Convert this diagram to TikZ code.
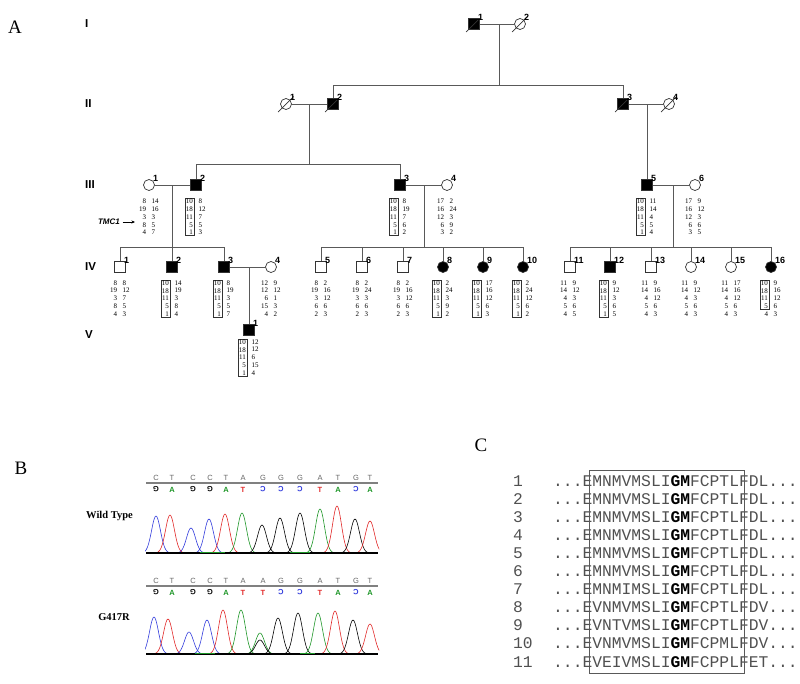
\documentclass[tikz,border=0pt]{standalone}
\usepackage{fontspec}
\setmainfont{Liberation Serif}
\newfontfamily\hv{Liberation Sans}
\newfontfamily\mono{Liberation Mono}
\usetikzlibrary{arrows.meta}
\definecolor{seqgray}{RGB}{80,80,80}
\definecolor{trB}{RGB}{50,60,220}
\definecolor{trR}{RGB}{225,40,40}
\definecolor{trG}{RGB}{30,150,40}
\newcommand\hapN[5]{%
  \node[hL] (#1L) at (#2-2,#3) {#4};
  \node[hR] (#1R) at (#2+1.5,#3) {#5};}
\newcommand\hapB[5]{%
  \node[hL,bx] (#1L) at (#2-2,#3) {#4};
  \node[hR] (#1R) at (#2+1.5,#3) {#5};}
\newcommand\pk[5]{%
  \pgfmathsetmacro\pkA{#2-2.6*#5}\pgfmathsetmacro\pkB{#2+2.6*#5}%
  \draw[#1, line width=0.6pt] plot[domain=\pkA:\pkB, samples=35, smooth] (\x, {#3-#4*exp(-((\x-#2)/#5)^2)});}
\begin{document}
\begin{tikzpicture}[x=1pt,y=-1pt,
 ln/.style={draw=black!65, line width=0.8pt},
 male/.style={rectangle, draw=black!80, line width=0.7pt, minimum size=10.5pt, inner sep=0pt, fill=white},
 fem/.style={circle, draw=black!80, line width=0.7pt, minimum size=11pt, inner sep=0pt, fill=white},
 aff/.style={fill=black},
 idl/.style={font=\hv\bfseries\fontsize{9}{9}\selectfont, inner sep=0pt, anchor=south west},
 gen/.style={font=\hv\bfseries\fontsize{11.5}{11.5}\selectfont, anchor=west, inner sep=0pt},
 hL/.style={font=\fontsize{7}{7.8}\selectfont, align=right, anchor=north east, inner sep=0.8pt},
 hR/.style={font=\fontsize{7}{7.8}\selectfont, align=left, anchor=north west, inner sep=0.8pt},
 bx/.style={draw=black!80, line width=0.5pt},
 panel/.style={font=\fontsize{19}{19}\selectfont, inner sep=0pt},
 slash/.style={draw=black!80, line width=0.7pt},
 cb/.style={font=\hv\fontsize{7.5}{7.5}\selectfont, text=black!60, inner sep=0pt},
 gl/.style={font=\hv\bfseries\fontsize{7.5}{7.5}\selectfont, inner sep=0pt},
 trl/.style={font=\bfseries\fontsize{10.5}{10.5}\selectfont, anchor=east, inner sep=0pt},
]
\useasboundingbox (0,0) rectangle (800,683);

% ---------- panel labels ----------
\node[panel] (pA) at (15,27) {A};
\node[panel] (pB) at (21,468) {B};
\node[panel] (pC) at (481,445) {C};

% generation labels
\node[gen] (gI) at (85,24) {I};
\node[gen] (gII) at (85,104) {II};
\node[gen] (gIII) at (85,185) {III};
\node[gen] (gIV) at (85,267) {IV};
\node[gen] (gV) at (85,335) {V};

% ---------- Generation I ----------
\node[male,aff] (i1) at (474,24) {};
\node[fem] (i2) at (520,24) {};
\draw[ln] (i1) -- (i2);
\coordinate (m1) at (499,24);
\coordinate (s1) at (499,85);

% ---------- Generation II ----------
\node[fem] (ii1) at (286,104) {};
\node[male,aff] (ii2) at (333,104) {};
\node[male,aff] (ii3) at (623,104) {};
\node[fem] (ii4) at (669,104) {};
\draw[ln] (m1) -- (s1);
\draw[ln] (ii2 |- s1) -- (ii3 |- s1);
\draw[ln] (ii2 |- s1) -- (ii2);
\draw[ln] (ii3 |- s1) -- (ii3);
\draw[ln] (ii1) -- (ii2);
\draw[ln] (ii3) -- (ii4);
\coordinate (m2) at (309,104);
\coordinate (s2) at (309,164);
\coordinate (m3) at (647,104);

% ---------- Generation III ----------
\node[fem] (iii1) at (149,185) {};
\node[male,aff] (iii2) at (196,185) {};
\node[male,aff] (iii3) at (400,185) {};
\node[fem] (iii4) at (447,185) {};
\node[male,aff] (iii5) at (647,185) {};
\node[fem] (iii6) at (695,185) {};
\draw[ln] (m2) -- (s2);
\draw[ln] (iii2 |- s2) -- (iii3 |- s2);
\draw[ln] (iii2 |- s2) -- (iii2);
\draw[ln] (iii3 |- s2) -- (iii3);
\draw[ln] (m3) -- (iii5);
\draw[ln] (iii1) -- (iii2);
\draw[ln] (iii3) -- (iii4);
\draw[ln] (iii5) -- (iii6);
\coordinate (m4) at (172,185);
\coordinate (s4) at (172,247);
\coordinate (m5) at (424,185);
\coordinate (s5) at (424,247);
\coordinate (m6) at (673,185);
\coordinate (s6) at (673,247);

% ---------- Generation IV ----------
\node[male] (iv1) at (120,267) {};
\node[male,aff] (iv2) at (172,267) {};
\node[male,aff] (iv3) at (224,267) {};
\node[fem] (iv4) at (271,267) {};
\node[male] (iv5) at (321,267) {};
\node[male] (iv6) at (362,267) {};
\node[male] (iv7) at (403,267) {};
\node[fem,aff] (iv8) at (443,267) {};
\node[fem,aff] (iv9) at (483,267) {};
\node[fem,aff] (iv10) at (523,267) {};
\node[male] (iv11) at (570,267) {};
\node[male,aff] (iv12) at (610,267) {};
\node[male] (iv13) at (651,267) {};
\node[fem] (iv14) at (691,267) {};
\node[fem] (iv15) at (731,267) {};
\node[fem,aff] (iv16) at (771,267) {};
\draw[ln] (m4) -- (s4);
\draw[ln] (m5) -- (s5);
\draw[ln] (m6) -- (s6);
\draw[ln] (iv1 |- s4) -- (iv3 |- s4);
\draw[ln] (iv5 |- s5) -- (iv10 |- s5);
\draw[ln] (iv11 |- s6) -- (iv16 |- s6);
\foreach \c in {iv1,iv2,iv3}{\draw[ln] (\c |- s4) -- (\c);}
\foreach \c in {iv5,iv6,iv7,iv8,iv9,iv10}{\draw[ln] (\c |- s5) -- (\c);}
\foreach \c in {iv11,iv12,iv13,iv14,iv15,iv16}{\draw[ln] (\c |- s6) -- (\c);}
\draw[ln] (iv3) -- (iv4);
\coordinate (m7) at (249,267);

% ---------- Generation V ----------
\node[male,aff] (v1) at (249,330) {};
\draw[ln] (m7) -- (v1);

% deceased slashes
\foreach \c in {i1,ii2,ii3}{\draw[slash] ([shift={(-8,8)}]\c.center) -- ([shift={(4,-4)}]\c.center);}
\foreach \c in {i2,ii1,ii4}{\draw[slash] ([shift={(-8,8)}]\c.center) -- ([shift={(7.5,-7.5)}]\c.center);}

% ---------- ID numbers ----------
\foreach \c/\t in {i1/1,i2/2,ii1/1,ii2/2,ii3/3,ii4/4,iii1/1,iii2/2,iii3/3,iii4/4,iii5/5,iii6/6,
 iv1/1,iv2/2,iv3/3,iv4/4,iv5/5,iv6/6,iv7/7,iv8/8,iv9/9,iv10/10,iv11/11,iv12/12,iv13/13,iv14/14,iv15/15,iv16/16,v1/1}
 {\node[idl] (\c n) at ([shift={(4,-3)}]\c.center) {\t};}

% ---------- haplotypes ----------
\hapN{h31}{149}{198}{8\\19\\3\\8\\4}{14\\16\\3\\5\\7}
\hapB{h32}{196}{198}{10\\18\\11\\5\\1}{8\\12\\7\\5\\3}
\hapB{h33}{400}{198}{10\\18\\11\\5\\1}{8\\19\\7\\6\\2}
\hapN{h34}{447}{198}{17\\16\\12\\6\\3}{2\\24\\3\\9\\2}
\hapB{h35}{647}{198}{10\\18\\11\\5\\1}{11\\14\\4\\5\\4}
\hapN{h36}{695}{198}{17\\16\\12\\6\\3}{9\\12\\3\\6\\5}

\hapN{h41}{120}{279.5}{8\\19\\3\\8\\4}{8\\12\\7\\5\\3}
\hapB{h42}{172}{279.5}{10\\18\\11\\5\\1}{14\\19\\3\\8\\4}
\hapB{h43}{224}{279.5}{10\\18\\11\\5\\1}{8\\19\\3\\5\\7}
\hapN{h44}{271}{279.5}{12\\12\\6\\15\\4}{9\\12\\1\\3\\2}
\hapN{h45}{321}{279.5}{8\\19\\3\\6\\2}{2\\16\\12\\6\\3}
\hapN{h46}{362}{279.5}{8\\19\\3\\6\\2}{2\\24\\3\\6\\3}
\hapN{h47}{403}{279.5}{8\\19\\3\\6\\2}{2\\16\\12\\6\\3}
\hapB{h48}{443}{279.5}{10\\18\\11\\5\\1}{2\\24\\3\\9\\2}
\hapB{h49}{483}{279.5}{10\\18\\11\\5\\1}{17\\16\\12\\6\\3}
\hapB{h410}{523}{279.5}{10\\18\\11\\5\\1}{2\\24\\12\\6\\2}
\hapN{h411}{570}{279.5}{11\\14\\4\\5\\4}{9\\12\\3\\6\\5}
\hapB{h412}{610}{279.5}{10\\18\\11\\5\\1}{9\\12\\3\\6\\5}
\hapN{h413}{651}{279.5}{11\\14\\4\\5\\4}{9\\16\\12\\6\\3}
\hapN{h414}{691}{279.5}{11\\14\\4\\5\\4}{9\\12\\3\\6\\3}
\hapN{h415}{731}{279.5}{11\\14\\4\\5\\4}{17\\16\\12\\6\\3}
\hapB{h416}{771}{279.5}{10\\18\\11\\5}{9\\16\\12\\6\\3}
\node[hL] (h416x) at (769,310.7) {4};

\hapB{h51}{249}{338.5}{10\\18\\11\\5\\1}{12\\12\\6\\15\\4}

% TMC1 arrow
\node[font=\hv\bfseries\itshape\fontsize{8}{8}\selectfont, anchor=east, inner sep=0pt] (tmc) at (120,222) {TMC1};
\coordinate (tmcend) at (135,222);
\draw[line width=0.7pt, -{Stealth[length=3.5pt,width=3pt]}] ([xshift=2.5pt]tmc.east) -- (tmcend);

% ---------- Panel B: chromatograms ----------
\node[trl] (wt) at (133,516) {Wild Type};
\node[trl] (mt) at (130,617) {G417R};

\draw[black!50, line width=1.1pt] (146,483) -- (378,483);
\draw[black!50, line width=1.1pt] (146,586) -- (378,586);
\foreach \x/\a/\b in {156/C/C,172/T/T,193/C/C,210/C/C,226/T/T,243/A/A,263/G/A,281/G/G,300/G/G,320/A/A,338/T/T,356/G/G,370/T/T}{
  \node[cb] at (\x,478) {\a};
  \node[cb] at (\x,581) {\b};
}
% glyph rows (complement strand)
\foreach \x/\g/\col/\r in {156/G/black/180,172/A/trG/0,193/G/black/180,210/G/black/180,226/A/trG/0,243/T/trR/0,263/C/trB/180,281/C/trB/180,300/C/trB/180,320/T/trR/0,338/A/trG/0,356/C/trB/180,370/A/trG/0}{
  \node[gl, text=\col, rotate=\r] at (\x,489.5) {\g};
}
\foreach \x/\g/\col/\r in {156/G/black/180,172/A/trG/0,193/G/black/180,210/G/black/180,226/A/trG/0,243/T/trR/0,263/T/trR/0,281/C/trB/180,300/C/trB/180,320/T/trR/0,338/A/trG/0,356/C/trB/180,370/A/trG/0}{
  \node[gl, text=\col, rotate=\r] at (\x,592.5) {\g};
}

% wild-type trace
\begin{scope}
\clip (145,495) rectangle (379,556);
\pk{trB}{156}{553}{37}{6.3}
\pk{trR}{170}{553}{38}{6.3}
\pk{trB}{191}{553}{25}{6.3}
\pk{trB}{209}{553}{34}{6.3}
\pk{trR}{225}{553}{39}{6.3}
\pk{trG}{242}{553}{40}{6.3}
\pk{black}{262}{553}{28}{6.3}
\pk{black}{280}{553}{35}{6.3}
\pk{black}{300}{553}{40}{6.3}
\pk{trG}{320}{553}{44}{6.3}
\pk{trR}{337}{553}{47}{6.3}
\pk{black}{355}{553}{34}{6.3}
\pk{trR}{370}{553}{32}{6.3}
\end{scope}
\draw[black, line width=1.2pt] (146,553) -- (378,553);
\draw[trG, line width=0.8pt] (200,552.5) -- (225,552.5) (290,552.5) -- (310,552.5);

% G417R trace
\begin{scope}
\clip (145,597) rectangle (379,657);
\pk{trB}{154}{654}{37}{6.3}
\pk{trR}{168}{654}{35}{6.3}
\pk{trB}{189}{654}{22}{6.3}
\pk{trB}{207}{654}{34}{6.3}
\pk{trR}{223}{654}{44}{6.3}
\pk{trG}{241}{654}{44}{6.3}
\pk{trG}{260}{654}{21}{6.3}
\pk{black}{260}{654}{14}{6.3}
\pk{black}{278}{654}{36}{6.3}
\pk{black}{298}{654}{41}{6.3}
\pk{trG}{318}{654}{41}{6.3}
\pk{trR}{335}{654}{43}{6.3}
\pk{black}{353}{654}{34}{6.3}
\pk{trR}{370}{654}{30}{6.3}
\end{scope}
\draw[black, line width=1.2pt] (146,654) -- (378,654);
\draw[trG, line width=0.8pt] (195,653.5) -- (215,653.5) (300,653.5) -- (315,653.5);

% ---------- Panel C: alignment ----------
\foreach \pre/\post [count=\k] in {EMNMVMSLI/FCPTLFDL,EMNMVMSLI/FCPTLFDL,EMNMVMSLI/FCPTLFDL,EMNMVMSLI/FCPTLFDL,EMNMVMSLI/FCPTLFDL,EMNMVMSLI/FCPTLFDL,EMNMIMSLI/FCPTLFDL,EVNMVMSLI/FCPTLFDV,EVNTVMSLI/FCPTLFDV,EVNMVMSLI/FCPMLFDV,EVEIVMSLI/FCPPLFET}{
  \pgfmathsetmacro\yy{486+18.1*(\k-1)}
  \node[anchor=base west, inner sep=0pt, font=\mono\fontsize{16.3}{16.3}\selectfont, text=seqgray] (num\k) at (513,\yy) {\k};
  \node[anchor=base west, inner sep=0pt, font=\mono\fontsize{16.3}{16.3}\selectfont, text=seqgray] (seq\k) at (553,\yy) {...\pre{\bfseries\color{black}GM}\post...};
}
\draw[black!65, line width=0.8pt] (589,470) rectangle (744,673);

\end{tikzpicture}
\end{document}
